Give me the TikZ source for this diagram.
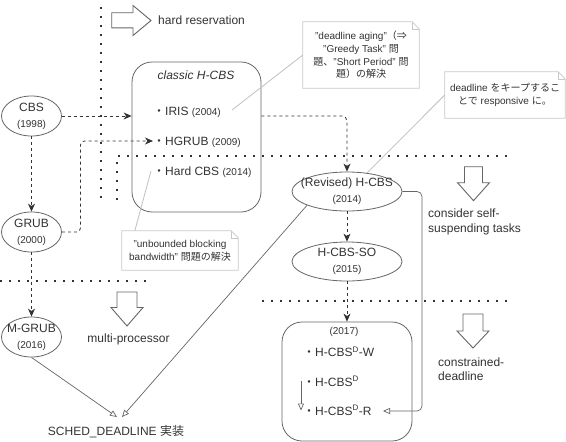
\documentclass[tikz,border=0pt]{standalone}
\usepackage{fontspec}
\setmainfont{Liberation Sans}
\newfontfamily\jp{Noto Sans CJK JP}
\usetikzlibrary{arrows.meta,calc,shapes.geometric}
\definecolor{txt}{HTML}{333333}
\definecolor{shp}{HTML}{666666}
\definecolor{notec}{HTML}{C8C8C8}
\definecolor{notel}{HTML}{C0C0C0}
\newcommand\yrf{\fontsize{10}{12}\selectfont}
\newcommand\noteoutline[1]{%
  \draw[draw=notec, line width=0.8pt, line join=miter] (#1.north west) -- ($(#1.north east)+(-7,0)$) -- ($(#1.north east)+(0,7)$) -- (#1.south east) -- (#1.south west) -- cycle;
  \draw[draw=notec, line width=0.6pt] ($(#1.north east)+(-7,0)$) -- ($(#1.north east)+(-7,7)$) -- ($(#1.north east)+(0,7)$);}
\begin{document}
\begin{tikzpicture}[x=1pt,y=-1pt,
  every node/.style={text=txt, inner sep=0pt, font=\fontsize{12}{14}\selectfont},
  ell/.style={draw=shp, ellipse, line width=0.8pt, inner sep=0pt},
  rbox/.style={draw=shp, rounded corners=20pt, line width=0.8pt},
  lbl/.style={align=center, font=\fontsize{12}{16}\selectfont},
  notebox/.style={align=center, font=\fontsize{10}{12.7}\selectfont},
  dasharrow/.style={draw=txt, line width=0.8pt, dash pattern=on 3pt off 3pt, -{Stealth[length=8pt,width=7pt,inset=2.5pt]}},
  openarrow/.style={draw=shp, line width=0.7pt, -{Triangle[open,length=7pt,width=6pt]}},
  dotline/.style={draw=txt, line width=2pt, dash pattern=on 2pt off 7pt},
  blockarrow/.style={draw=shp, line width=0.9pt, fill=white, line join=miter},
  noteline/.style={draw=notel, line width=0.8pt}]
\fill[white] (0,0) rectangle (566,442);
\useasboundingbox (0,0) rectangle (566,442);

% dotted separators
\draw[dotline] (101,7) -- (101,200);
\draw[dotline] (117,200) -- (117,156) -- (511,156);
\draw[dotline] (262,301) -- (512,301);
\draw[dotline] (0,281) -- (148,281);

% block arrows
\draw[blockarrow] (111.7,12.7) -- (133,12.7) -- (133,5.5) -- (151,20.5) -- (133,35.5) -- (133,27.8) -- (111.7,27.8) -- cycle;
\draw[blockarrow] (464.5,166.7) -- (482.5,166.7) -- (482.5,182.7) -- (489.5,182.7) -- (473.5,200.7) -- (457.5,182.7) -- (464.5,182.7) -- cycle;
\draw[blockarrow] (117,292) -- (137,292) -- (137,307.5) -- (143,307.5) -- (127,326) -- (111,307.5) -- (117,307.5) -- cycle;
\draw[blockarrow] (463,314) -- (483,314) -- (483,331) -- (489,331) -- (473,348) -- (457,331) -- (463,331) -- cycle;

% classic H-CBS box
\node[rbox, minimum width=129pt, minimum height=150pt] (classic) at (196.5,137) {};
\node[font=\itshape\fontsize{12}{14}\selectfont] (ctitle) at (196,75) {classic H-CBS};
\node[anchor=base west] (iris) at (153,115.3) {{\jp ・}IRIS {\yrf (2004)}};
\node[anchor=base west] (hgrub) at (153,145.3) {{\jp ・}HGRUB {\yrf (2009)}};
\node[anchor=base west] (hardcbs) at (153,175.8) {{\jp ・}Hard CBS {\yrf (2014)}};

% ellipses
\node[ell, minimum width=60pt, minimum height=40pt] (cbs) at (31.5,116) {};
\node[lbl] (cbst) at (cbs) {CBS\\{\yrf (1998)}};
\node[ell, minimum width=60pt, minimum height=40pt] (grub) at (31.5,232) {};
\node[lbl] (grubt) at (grub) {GRUB\\{\yrf (2000)}};
\node[ell, minimum width=60pt, minimum height=40pt] (mgrub) at (31.5,337) {};
\node[lbl] (mgrubt) at (mgrub) {M-GRUB\\{\yrf (2016)}};
\node[ell, minimum width=110pt, minimum height=39pt] (rev) at (347,191.5) {};
\node[lbl] (revt) at (rev) {(Revised) H-CBS\\{\yrf (2014)}};
\node[ell, minimum width=110pt, minimum height=39pt] (so) at (347,261.5) {};
\node[lbl] (sot) at (so) {H-CBS-SO\\{\yrf (2015)}};

% 2017 box
\node[rbox, minimum width=130pt, minimum height=119pt] (b17) at (347,381.5) {};
\node[font=\yrf] (y17) at (344,332) {(2017)};
\node[anchor=base west] (hw) at (303,356.5) {{\jp ・}H-CBS\textsuperscript{D}-W};
\node[anchor=base west] (hd) at (303,386.3) {{\jp ・}H-CBS\textsuperscript{D}};
\node[anchor=base west] (hr) at (303,415.3) {{\jp ・}H-CBS\textsuperscript{D}-R};

% labels
\node[anchor=west] (hardres) at (158,20.5) {hard reservation};
\node[anchor=west, align=left, font=\fontsize{12}{15}\selectfont] (selfsusp) at (428,221.5) {consider self-\\suspending tasks};
\node[anchor=west, align=left, font=\fontsize{12}{14.5}\selectfont] (constr) at (438,369) {constrained-\\deadline};
\node (multi) at (128.5,339) {multi-processor};
\node (sched) at (116,431.5) {SCHED\_DEADLINE {\jp 実装}};

% notes
\node[notebox, minimum width=116pt, minimum height=66pt] (n1) at (361,55) {"deadline aging"{\jp （⇒}\\"Greedy Task" {\jp 問}\\{\jp 題、}"Short Period" {\jp 問}\\{\jp 題）の解決}};
\noteoutline{n1}
\node[notebox, minimum width=120pt, minimum height=46pt] (n2) at (505,95) {deadline {\jp をキープするこ}\\{\jp とで} responsive {\jp に。}};
\noteoutline{n2}
\node[notebox, minimum width=116pt, minimum height=39pt] (n3) at (180,250.5) {"unbounded blocking\\bandwidth" {\jp 問題の解決}};
\noteoutline{n3}

% coordinates
\coordinate (hgtip) at ($(hgrub.base west)+(0,-4.3)$);
\coordinate (gturn) at (80.5,0);
\coordinate (hrtip) at ($(hr.base west)+(80,-4.3)$);
\coordinate (rturn) at (422,0);
\coordinate (sdl) at (117,417);
\coordinate (sdr) at (122,417);
\coordinate (n1tip) at (232,110);
\coordinate (n3tip) at (151,171);
\coordinate (hdstart) at ($(hd.base west)+(-2,-5)$);
\coordinate (hrend) at ($(hr.base west)+(-2,-4.8)$);

% dashed connectors
\draw[dasharrow] (cbs.east) -- (cbs.east -| classic.west);
\draw[dasharrow] (cbs.south) -- (grub.north);
\draw[dasharrow] (grub.south) -- (mgrub.north);
\draw[dasharrow, rounded corners=4pt] (grub.east) -| (gturn |- hgtip) -- (hgtip);
\draw[dasharrow, rounded corners=5pt] (cbs.east -| classic.east) -| (rev.north);
\draw[dasharrow] (rev.south) -- (so.north);
\draw[dasharrow] (so.south) -- (b17.north);

% solid connectors
\draw[openarrow, rounded corners=5pt] (rev.east) -- (rev.east -| rturn) -- (rturn |- hrtip) -- (hrtip);
\draw[openarrow] (hdstart) -- (hrend);
\draw[openarrow] (mgrub.south) -- (sdl);
\draw[openarrow] (rev.199) -- (sdr);

% note lines
\draw[noteline] (n1.west) -- (n1tip);
\draw[noteline] (n2.west) -- (rev.43);
\draw[noteline] ($(n3.north west)+(13,0)$) -- (n3tip);
\end{tikzpicture}
\end{document}
